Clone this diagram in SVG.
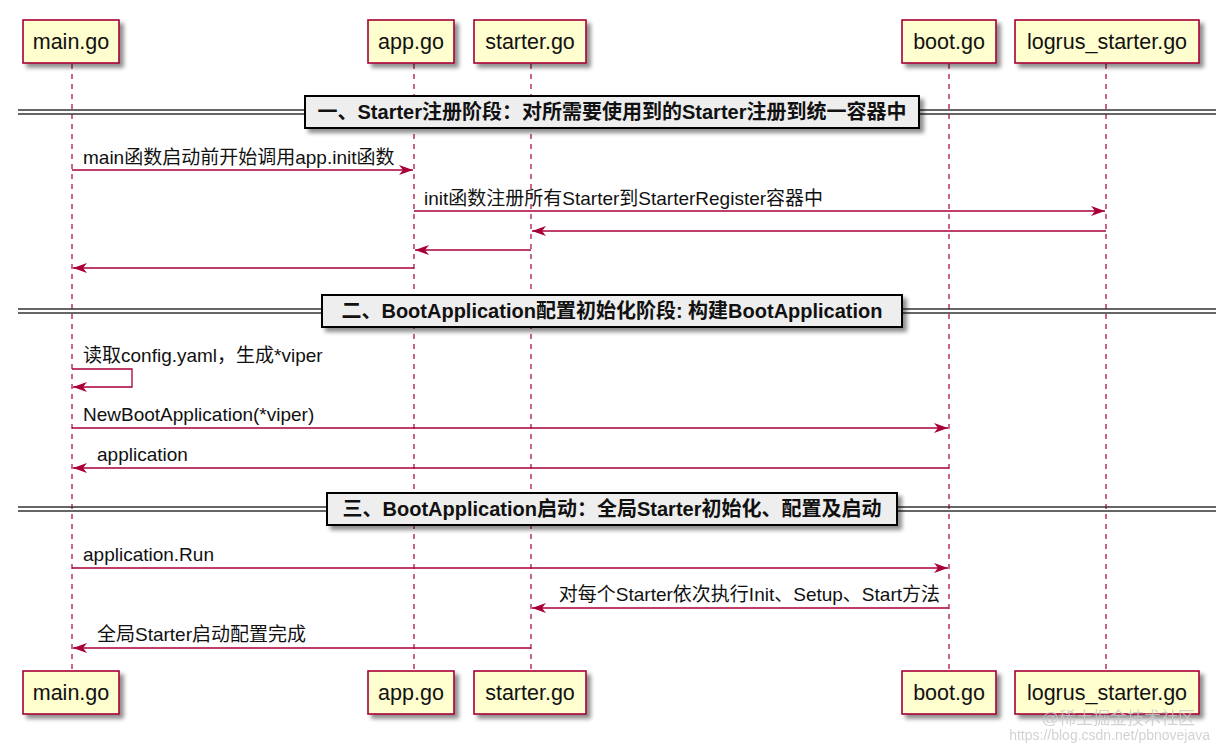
<svg xmlns="http://www.w3.org/2000/svg" width="1216" height="750" viewBox="0 0 1216 750">
<style>
.bg{fill:#ffffff}
.life{stroke:#A80036;stroke-width:1.2;stroke-dasharray:5,5;fill:none}
.pbox{fill:#FEFECE;stroke:#A80036;stroke-width:1.6}
.ptxt{font-family:"Liberation Sans","Noto Sans CJK SC",sans-serif;font-size:21.5px;fill:#111;text-anchor:middle}
.msg{stroke:#A80036;stroke-width:1.3;fill:none}
.mtxt{font-family:"Liberation Sans","Noto Sans CJK SC",sans-serif;font-size:19px;fill:#111}
.dline{stroke:#333;stroke-width:1.4}
.dbox{fill:#EEEEEE;stroke:#000;stroke-width:2}
.dtxt{font-family:"Liberation Sans","Noto Sans CJK SC",sans-serif;font-size:20px;font-weight:bold;fill:#111}
.wm{font-family:"Liberation Sans","Noto Sans CJK SC",sans-serif;fill:#c8c8c8;opacity:0.8}
</style>
<defs>
<filter id="sh" x="-20%" y="-20%" width="150%" height="160%">
<feGaussianBlur in="SourceAlpha" stdDeviation="2.2"/>
<feOffset dx="4" dy="4" result="b"/>
<feComponentTransfer><feFuncA type="linear" slope="0.45"/></feComponentTransfer>
<feMerge><feMergeNode/><feMergeNode in="SourceGraphic"/></feMerge>
</filter>
<marker id="ah" viewBox="0 0 14 10" refX="14" refY="5" markerWidth="14" markerHeight="10" markerUnits="userSpaceOnUse" orient="auto">
<polygon points="0,0 14,5 0,10 4,5" fill="#A80036"/>
</marker>
</defs>
<rect class="bg" x="0" y="0" width="1216" height="750"/>

<g id="lifelines">
<line class="life" x1="72" y1="64" x2="72" y2="671"/>
<line class="life" x1="414" y1="64" x2="414" y2="671"/>
<line class="life" x1="531" y1="64" x2="531" y2="671"/>
<line class="life" x1="949" y1="64" x2="949" y2="671"/>
<line class="life" x1="1106" y1="64" x2="1106" y2="671"/>
</g>

<g id="main-go">
<rect class="pbox" filter="url(#sh)" x="23" y="20" width="96" height="43"/>
<text class="ptxt" x="71" y="49">main.go</text>
<rect class="pbox" filter="url(#sh)" x="23" y="671" width="96" height="43"/>
<text class="ptxt" x="71" y="700">main.go</text>
</g>
<g id="app-go">
<rect class="pbox" filter="url(#sh)" x="368" y="20" width="86" height="43"/>
<text class="ptxt" x="411" y="49">app.go</text>
<rect class="pbox" filter="url(#sh)" x="368" y="671" width="86" height="43"/>
<text class="ptxt" x="411" y="700">app.go</text>
</g>
<g id="starter-go">
<rect class="pbox" filter="url(#sh)" x="474" y="20" width="112" height="43"/>
<text class="ptxt" x="530" y="49">starter.go</text>
<rect class="pbox" filter="url(#sh)" x="474" y="671" width="112" height="43"/>
<text class="ptxt" x="530" y="700">starter.go</text>
</g>
<g id="boot-go">
<rect class="pbox" filter="url(#sh)" x="902" y="20" width="94" height="43"/>
<text class="ptxt" x="949" y="49">boot.go</text>
<rect class="pbox" filter="url(#sh)" x="902" y="671" width="94" height="43"/>
<text class="ptxt" x="949" y="700">boot.go</text>
</g>
<g id="logrus-starter-go">
<rect class="pbox" filter="url(#sh)" x="1015" y="20" width="184" height="43"/>
<text class="ptxt" x="1107" y="49">logrus_starter.go</text>
<rect class="pbox" filter="url(#sh)" x="1015" y="671" width="184" height="43"/>
<text class="ptxt" x="1107" y="700">logrus_starter.go</text>
</g>

<g id="divider-1">
<line class="dline" x1="18" y1="110" x2="1216" y2="110"/>
<line class="dline" x1="18" y1="114" x2="1216" y2="114"/>
<rect class="dbox" filter="url(#sh)" x="305" y="96" width="614" height="32"/>
<text class="dtxt" x="612" y="119" text-anchor="middle">一、Starter注册阶段：对所需要使用到的Starter注册到统一容器中</text>
</g>
<g id="divider-2">
<line class="dline" x1="18" y1="309" x2="1216" y2="309"/>
<line class="dline" x1="18" y1="313" x2="1216" y2="313"/>
<rect class="dbox" filter="url(#sh)" x="322" y="295" width="580" height="32"/>
<text class="dtxt" x="612" y="318" text-anchor="middle">二、BootApplication配置初始化阶段: 构建BootApplication</text>
</g>
<g id="divider-3">
<line class="dline" x1="18" y1="507" x2="1216" y2="507"/>
<line class="dline" x1="18" y1="511" x2="1216" y2="511"/>
<rect class="dbox" filter="url(#sh)" x="327" y="493" width="570" height="32"/>
<text class="dtxt" x="612" y="516" text-anchor="middle">三、BootApplication启动：全局Starter初始化、配置及启动</text>
</g>

<g id="connectors">
<line class="msg" marker-end="url(#ah)" x1="72" y1="170" x2="413" y2="170"/>
<text class="mtxt" x="83" y="164">main函数启动前开始调用app.init函数</text>
<line class="msg" marker-end="url(#ah)" x1="414" y1="211" x2="1105" y2="211"/>
<text class="mtxt" x="424" y="205">init函数注册所有Starter到StarterRegister容器中</text>
<line class="msg" marker-end="url(#ah)" x1="1106" y1="231" x2="532" y2="231"/>
<line class="msg" marker-end="url(#ah)" x1="531" y1="250" x2="415" y2="250"/>
<line class="msg" marker-end="url(#ah)" x1="414" y1="268" x2="73" y2="268"/>

<polyline class="msg" marker-end="url(#ah)" points="72,369 132,369 132,387 73,387"/>
<text class="mtxt" x="83" y="362">读取config.yaml，生成*viper</text>
<line class="msg" marker-end="url(#ah)" x1="72" y1="428" x2="948" y2="428"/>
<text class="mtxt" x="83" y="421">NewBootApplication(*viper)</text>
<line class="msg" marker-end="url(#ah)" x1="949" y1="468" x2="73" y2="468"/>
<text class="mtxt" x="97" y="461">application</text>

<line class="msg" marker-end="url(#ah)" x1="72" y1="568" x2="948" y2="568"/>
<text class="mtxt" x="83" y="561">application.Run</text>
<line class="msg" marker-end="url(#ah)" x1="949" y1="608" x2="532" y2="608"/>
<text class="mtxt" x="940" y="601" text-anchor="end">对每个Starter依次执行Init、Setup、Start方法</text>
<line class="msg" marker-end="url(#ah)" x1="531" y1="648" x2="73" y2="648"/>
<text class="mtxt" x="97" y="641">全局Starter启动配置完成</text>
</g>

<g id="watermark">
<text class="wm" x="1195" y="724" font-size="17" text-anchor="end">@稀土掘金技术社区</text>
<text class="wm" x="1210" y="740" font-size="14" text-anchor="end">https://blog.csdn.net/pbnovejava</text>
</g>
</svg>
